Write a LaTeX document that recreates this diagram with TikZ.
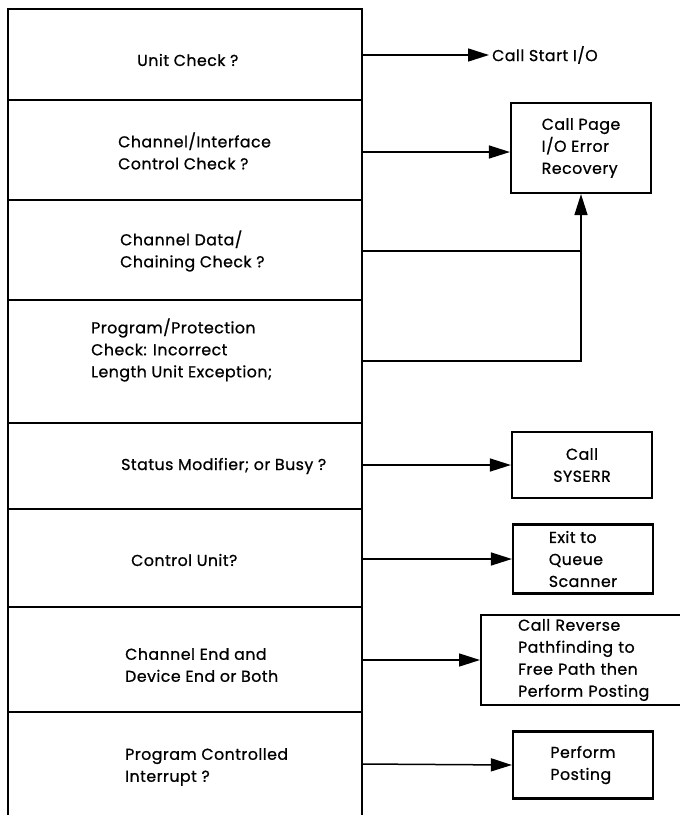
\documentclass[tikz,border=0pt]{standalone}
\usepackage{fontspec}
\setmainfont{Poppins}[LetterSpace=3, FakeBold=0.8]
\usetikzlibrary{arrows.meta,positioning}

\begin{document}
\begin{tikzpicture}[x=1pt, y=-1pt, every node/.style={font=\fontsize{15.8}{22}\selectfont},
  query/.style={anchor=west, align=left, inner sep=0pt},
  action/.style={draw, line width=2.2pt, minimum width=140pt, inner sep=4pt},
  arr/.style={line width=1.5pt, -{Triangle[length=21pt, width=13pt]}},
  rule/.style={line width=1.3pt}]
\useasboundingbox (0,0) rectangle (680,815);
\clip (0,0) rectangle (680,815);
\draw[line width=2.2pt] (8,825) -- (8,9) -- (362,9) -- (362,825);
\foreach \y in {100,200,300,423,509,607,712}
  \draw[rule] (8,\y) -- (362,\y);
\node[query] (unit) at (137,60) {Unit Check ?};
\node[query] (iface) at (118,151) {Channel/Interface\\Control Check ?};
\node[query] (chain) at (120,251) {Channel Data/\\Chaining Check ?};
\node[query] (prot) at (91,350) {Program/Protection\\Check: Incorrect\\Length Unit Exception;};
\node[query] (status) at (121,466) {Status Modifier; or Busy ?};
\node[query] (cunit) at (131,560) {Control Unit?};
\node[query] (devend) at (125,665) {Channel End and\\Device End or Both};
\node[query] (pci) at (125,767) {Program Controlled\\Interrupt ?};
\node[anchor=west, inner sep=3pt] (startio) at (489,55) {Call Start I/O};
\node[action, minimum height=90pt, align=left] (pageio) at (581,148) {Call Page\\I/O Error\\Recovery};
\node[action, minimum height=66pt, align=center] (syserr) at (582,465) {Call\\SYSERR};
\node[action, minimum height=69pt, align=left] (queue) at (583,559) {Exit to\\Queue\\Scanner};
\node[action, anchor=west, minimum height=89pt, text width=200pt, inner xsep=37pt, align=left] (reverse) at (480,660) {Call Reverse\\Pathfinding to\\Free Path then\\Perform Posting};
\node[action, minimum height=67pt, align=left] (posting) at (583,765) {Perform\\Posting};
\coordinate (o1) at (362,55);
\coordinate (o2) at (362,152);
\coordinate (o3) at (362,251);
\coordinate (o4) at (362,361);
\coordinate (o5) at (362,465);
\coordinate (o6) at (362,559);
\coordinate (o7) at (362,660);
\coordinate (o8) at (362,764);
\draw[arr] (o1) -- (startio.west);
\draw[arr] (o2) -- (o2 -| pageio.west);
\draw[line width=1.5pt] (o3) -- (o3 -| pageio.south);
\draw[arr] (o4) -| (pageio.south);
\draw[arr] (o5) -- (syserr.west);
\draw[arr] (o6) -- (queue.west);
\draw[arr] (o7) -- (reverse.west);
\draw[arr] (o8) -- (posting.west);
\end{tikzpicture}
\end{document}
